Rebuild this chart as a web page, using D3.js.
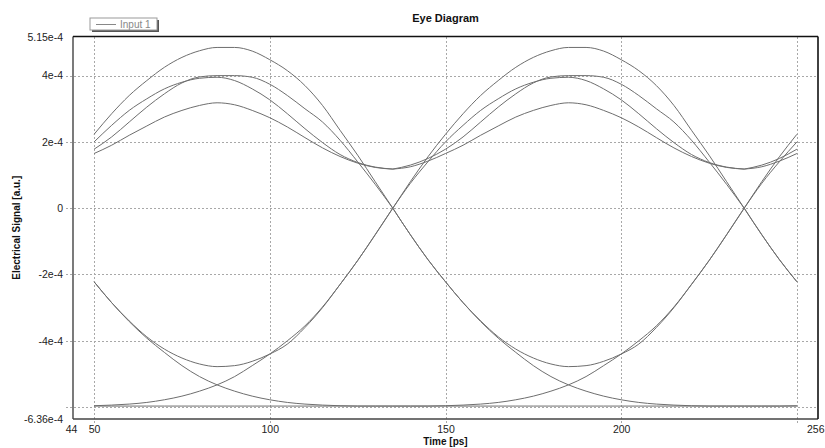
<!DOCTYPE html>
<html>
<head>
<meta charset="utf-8">
<script src="https://cdn.jsdelivr.net/npm/d3@7"></script>
<style>
  html, body { margin: 0; padding: 0; background: #fff; }
  svg { display: block; font-family: "Liberation Sans", Arial, sans-serif; }
</style>
</head>
<body>
<svg id="chart" width="825" height="448"></svg>
<script>
// ---- data (signal values in units of 1e-4 a.u.) ----
const tau = [0,5,10,15,20,25,30,35,40,45,50,55,60,65,70,75,80,85,90,95,100];  // ps inside one bit slot
const bitStarts = [35, 135, 235];   // crossing times (ps) where each bit slot begins

// upper (logic "1") segments
const s010 = [0,0.8,1.55,2.23,2.85,3.4,3.85,4.25,4.55,4.75,4.85,4.85,4.74,4.48,4.15,3.7,3.1,2.35,1.6,0.8,0];
const s110 = [1.18,1.3,1.5,1.78,2.15,2.6,3.05,3.45,3.78,3.96,4.0,4.0,3.95,3.74,3.4,3.0,2.6,2.05,1.4,0.72,0];
const s011 = [0,0.75,1.4,2.0,2.5,2.95,3.3,3.6,3.8,3.92,3.95,3.85,3.6,3.27,2.85,2.4,1.98,1.62,1.38,1.24,1.18];
const s111 = [1.18,1.25,1.42,1.65,1.9,2.2,2.48,2.75,2.95,3.1,3.18,3.12,2.95,2.73,2.45,2.13,1.82,1.56,1.36,1.23,1.18];
// lower (logic "0") segments
const s101 = [0,-0.8,-1.55,-2.22,-2.85,-3.4,-3.88,-4.25,-4.52,-4.7,-4.78,-4.75,-4.62,-4.4,-4.1,-3.6,-3.0,-2.3,-1.58,-0.8,0];
const s100 = [0,-0.8,-1.55,-2.22,-2.85,-3.42,-3.92,-4.35,-4.75,-5.08,-5.33,-5.52,-5.67,-5.78,-5.86,-5.91,-5.94,-5.96,-5.97,-5.97,-5.97];
const s001 = [-5.97,-5.97,-5.97,-5.96,-5.94,-5.91,-5.86,-5.78,-5.67,-5.52,-5.33,-5.08,-4.75,-4.4,-4.0,-3.55,-2.98,-2.3,-1.58,-0.8,0];
const s000 = [-5.97,-5.97,-5.97,-5.97,-5.97,-5.97,-5.97,-5.97,-5.97,-5.97,-5.97,-5.97,-5.97,-5.97,-5.97,-5.97,-5.97,-5.97,-5.97,-5.97,-5.97];

const segments = [s000, s001, s100, s101, s111, s011, s110, s010];

const xTickValues = [44, 50, 100, 150, 200, 256];
const xTickLabels = ["44", "50", "100", "150", "200", "256"];
const yTickValues = [5.15, 4, 2, 0, -2, -4, -6.36];
const yTickLabels = ["5.15e-4", "4e-4", "2e-4", "0", "-2e-4", "-4e-4", "-6.36e-4"];
const xGrid = [50, 100, 150, 200, 250];
const yGrid = [4, 2, 0, -2, -4, -6];
const tWindow = [50, 250];

// ---- layout ----
const svg = d3.select("#chart");
const L = 73, R = 818, T = 36.5, B = 419;
const x = d3.scaleLinear().domain([44, 256]).range([L, R]);
const y = d3.scaleLinear().domain([-6.36, 5.15]).range([B, 37.5]);

// grid
const gridG = svg.append("g").attr("stroke", "#a8a8a8").attr("stroke-width", 1)
  .attr("stroke-dasharray", "2,2").attr("shape-rendering", "crispEdges");
gridG.selectAll("line.h").data(yGrid).join("line").attr("class", "h")
  .attr("x1", L - 7).attr("x2", R).attr("y1", d => Math.round(y(d)) + 0.5).attr("y2", d => Math.round(y(d)) + 0.5);
gridG.selectAll("line.v").data(xGrid).join("line").attr("class", "v")
  .attr("x1", d => Math.round(x(d)) + 0.5).attr("x2", d => Math.round(x(d)) + 0.5)
  .attr("y1", T).attr("y2", B + 6);

// traces
const line = d3.line().x(d => x(d[0])).y(d => y(d[1])).curve(d3.curveMonotoneX);
const traceG = svg.append("g").attr("fill", "none").attr("stroke", "#6e6e6e").attr("stroke-width", 1);
bitStarts.forEach(t0 => {
  segments.forEach(seg => {
    const pts = tau.map((tt, i) => [t0 + tt, seg[i]]).filter(p => p[0] >= tWindow[0] && p[0] <= tWindow[1]);
    if (pts.length > 1) traceG.append("path").attr("d", line(pts));
  });
});

// frame
svg.append("line").attr("x1", L).attr("x2", L).attr("y1", T).attr("y2", B).attr("stroke", "#333").attr("stroke-width", 1.3);
svg.append("line").attr("x1", L).attr("x2", R).attr("y1", B).attr("y2", B).attr("stroke", "#444").attr("stroke-width", 1.3);
svg.append("line").attr("x1", L).attr("x2", R).attr("y1", T).attr("y2", T).attr("stroke", "#111").attr("stroke-width", 1.6);
svg.append("line").attr("x1", R).attr("x2", R).attr("y1", T).attr("y2", B).attr("stroke", "#111").attr("stroke-width", 1.6);

// axes (labels only)
const xAxis = d3.axisBottom(x).tickValues(xTickValues).tickSize(0).tickPadding(7)
  .tickFormat((d, i) => xTickLabels[i]);
const gx = svg.append("g").attr("transform", `translate(0,${B})`).call(xAxis);
const yAxis = d3.axisLeft(y).tickValues(yTickValues).tickSize(0).tickPadding(10)
  .tickFormat((d, i) => yTickLabels[i]);
const gy = svg.append("g").attr("transform", `translate(${L},0)`).call(yAxis);
[gx, gy].forEach(g => {
  g.select(".domain").remove();
  g.selectAll("text").attr("font-family", "Liberation Sans, Arial, sans-serif")
    .attr("font-size", 10.5).attr("fill", "#222");
});
// keep the last x label inside the window
gx.selectAll(".tick text").filter(d => d === 256).attr("text-anchor", "end").attr("dx", 6);
gx.selectAll(".tick text").filter(d => d === 44).attr("dx", -2);

// titles
svg.append("text").attr("x", (L + R) / 2).attr("y", 22).attr("text-anchor", "middle")
  .attr("font-size", 11).attr("font-weight", "bold").attr("fill", "#111").text("Eye Diagram");
svg.append("text").attr("x", (L + R) / 2).attr("y", 445).attr("text-anchor", "middle")
  .attr("font-size", 10).attr("font-weight", "bold").attr("fill", "#111").text("Time [ps]");
svg.append("text").attr("transform", `translate(20,${(T + B) / 2}) rotate(-90)`).attr("text-anchor", "middle")
  .attr("font-size", 10).attr("font-weight", "bold").attr("fill", "#111").text("Electrical Signal [a.u.]");

// legend
const lg = svg.append("g");
lg.append("rect").attr("x", 92).attr("y", 20).attr("width", 67).attr("height", 12).attr("fill", "#555");
lg.append("rect").attr("x", 90).attr("y", 18).attr("width", 67).attr("height", 12)
  .attr("fill", "#fff").attr("stroke", "#999").attr("stroke-width", 1);
lg.append("line").attr("x1", 96).attr("x2", 116).attr("y1", 24.5).attr("y2", 24.5)
  .attr("stroke", "#888").attr("stroke-width", 1);
lg.append("text").attr("x", 120).attr("y", 28).attr("font-size", 10).attr("fill", "#888").text("Input 1");
</script>
</body>
</html>
